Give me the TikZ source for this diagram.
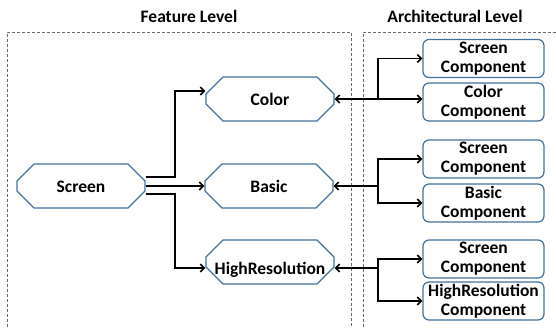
\documentclass[tikz,border=0pt]{standalone}
\usepackage{fontspec}
\setmainfont{Carlito}
\usetikzlibrary{shapes.misc,arrows.meta,calc}
\definecolor{nodeblue}{HTML}{41719C}
\begin{document}
\begin{tikzpicture}[x=1pt,y=-1pt,
  every node/.style={font=\fontsize{17.5}{19}\selectfont\bfseries},
  feat/.style={chamfered rectangle, chamfered rectangle xsep=12pt, chamfered rectangle ysep=11pt,
    draw=nodeblue, line width=1.2pt, fill=white, minimum width=128pt, minimum height=44pt,
    inner sep=0pt, text height=12pt, text depth=0pt},
  comp/.style={rectangle, rounded corners=6pt, draw=nodeblue, line width=1.2pt, fill=white,
    minimum width=121pt, minimum height=38pt, inner sep=0pt, align=center},
  frame/.style={draw=black!60, dashed, dash pattern=on 3pt off 2pt, line width=0.8pt},
  arr/.style={draw=black, line width=1.6pt, -{Straight Barb[length=4pt,width=8pt]}}]
\useasboundingbox (0,0) rectangle (556,327);
% frames
\draw[frame] (7,327) -- (7,32) -- (351,32) -- (351,327);
\draw[frame] (363,327) -- (363,32) -- (556,32);
\node (t1) at (189,16) {Feature Level};
\node (t2) at (455,16) {Architectural Level};
% feature nodes
\node[feat] (screen) at (81,186) {Screen};
\node[feat] (color) at (270,99) {Color};
\node[feat] (basic) at (269,186) {Basic};
\node[feat] (hr) at (270,262) {\raisebox{-6pt}[12pt][0pt]{HighResolution}};
% component nodes
\node[comp] (sc1) at (483.5,58.5) {Screen\\Component};
\node[comp] (cc) at (483.5,102) {Color\\Component};
\node[comp] (sc2) at (483.5,159) {Screen\\Component};
\node[comp] (bc) at (483.5,203) {Basic\\Component};
\node[comp] (sc3) at (483.5,259) {Screen\\Component};
\node[comp] (hc) at (483.5,301) {HighResolution\\Component};
% left connectors
\coordinate (ls) at (175,186);
\draw[arr] ([yshift=9pt]screen.east) -| (ls |- 0,140) |- ([yshift=8pt]color.west);
\draw[arr] (screen.east) -- (basic.west);
\draw[arr] ([yshift=-8pt]screen.east) -| (ls |- 0,230) |- ([yshift=-6pt]hr.west);
% right connectors
\coordinate (jc) at (378,99);
\coordinate (jb) at (378,186);
\coordinate (jh) at (378,268);
\draw[arr] (jc) -- (color.east);
\draw[arr] (jc) |- (sc1.west);
\draw[arr] (jc) -- (jc -| cc.west);
\draw[arr] (jb) -- (basic.east);
\draw[arr] (jb) |- (sc2.west);
\draw[arr] (jb) |- (bc.west);
\draw[arr] (jh) -- ([yshift=-6pt]hr.east);
\draw[arr] (jh) |- (sc3.west);
\draw[arr] (jh) |- (hc.west);
\end{tikzpicture}
\end{document}
